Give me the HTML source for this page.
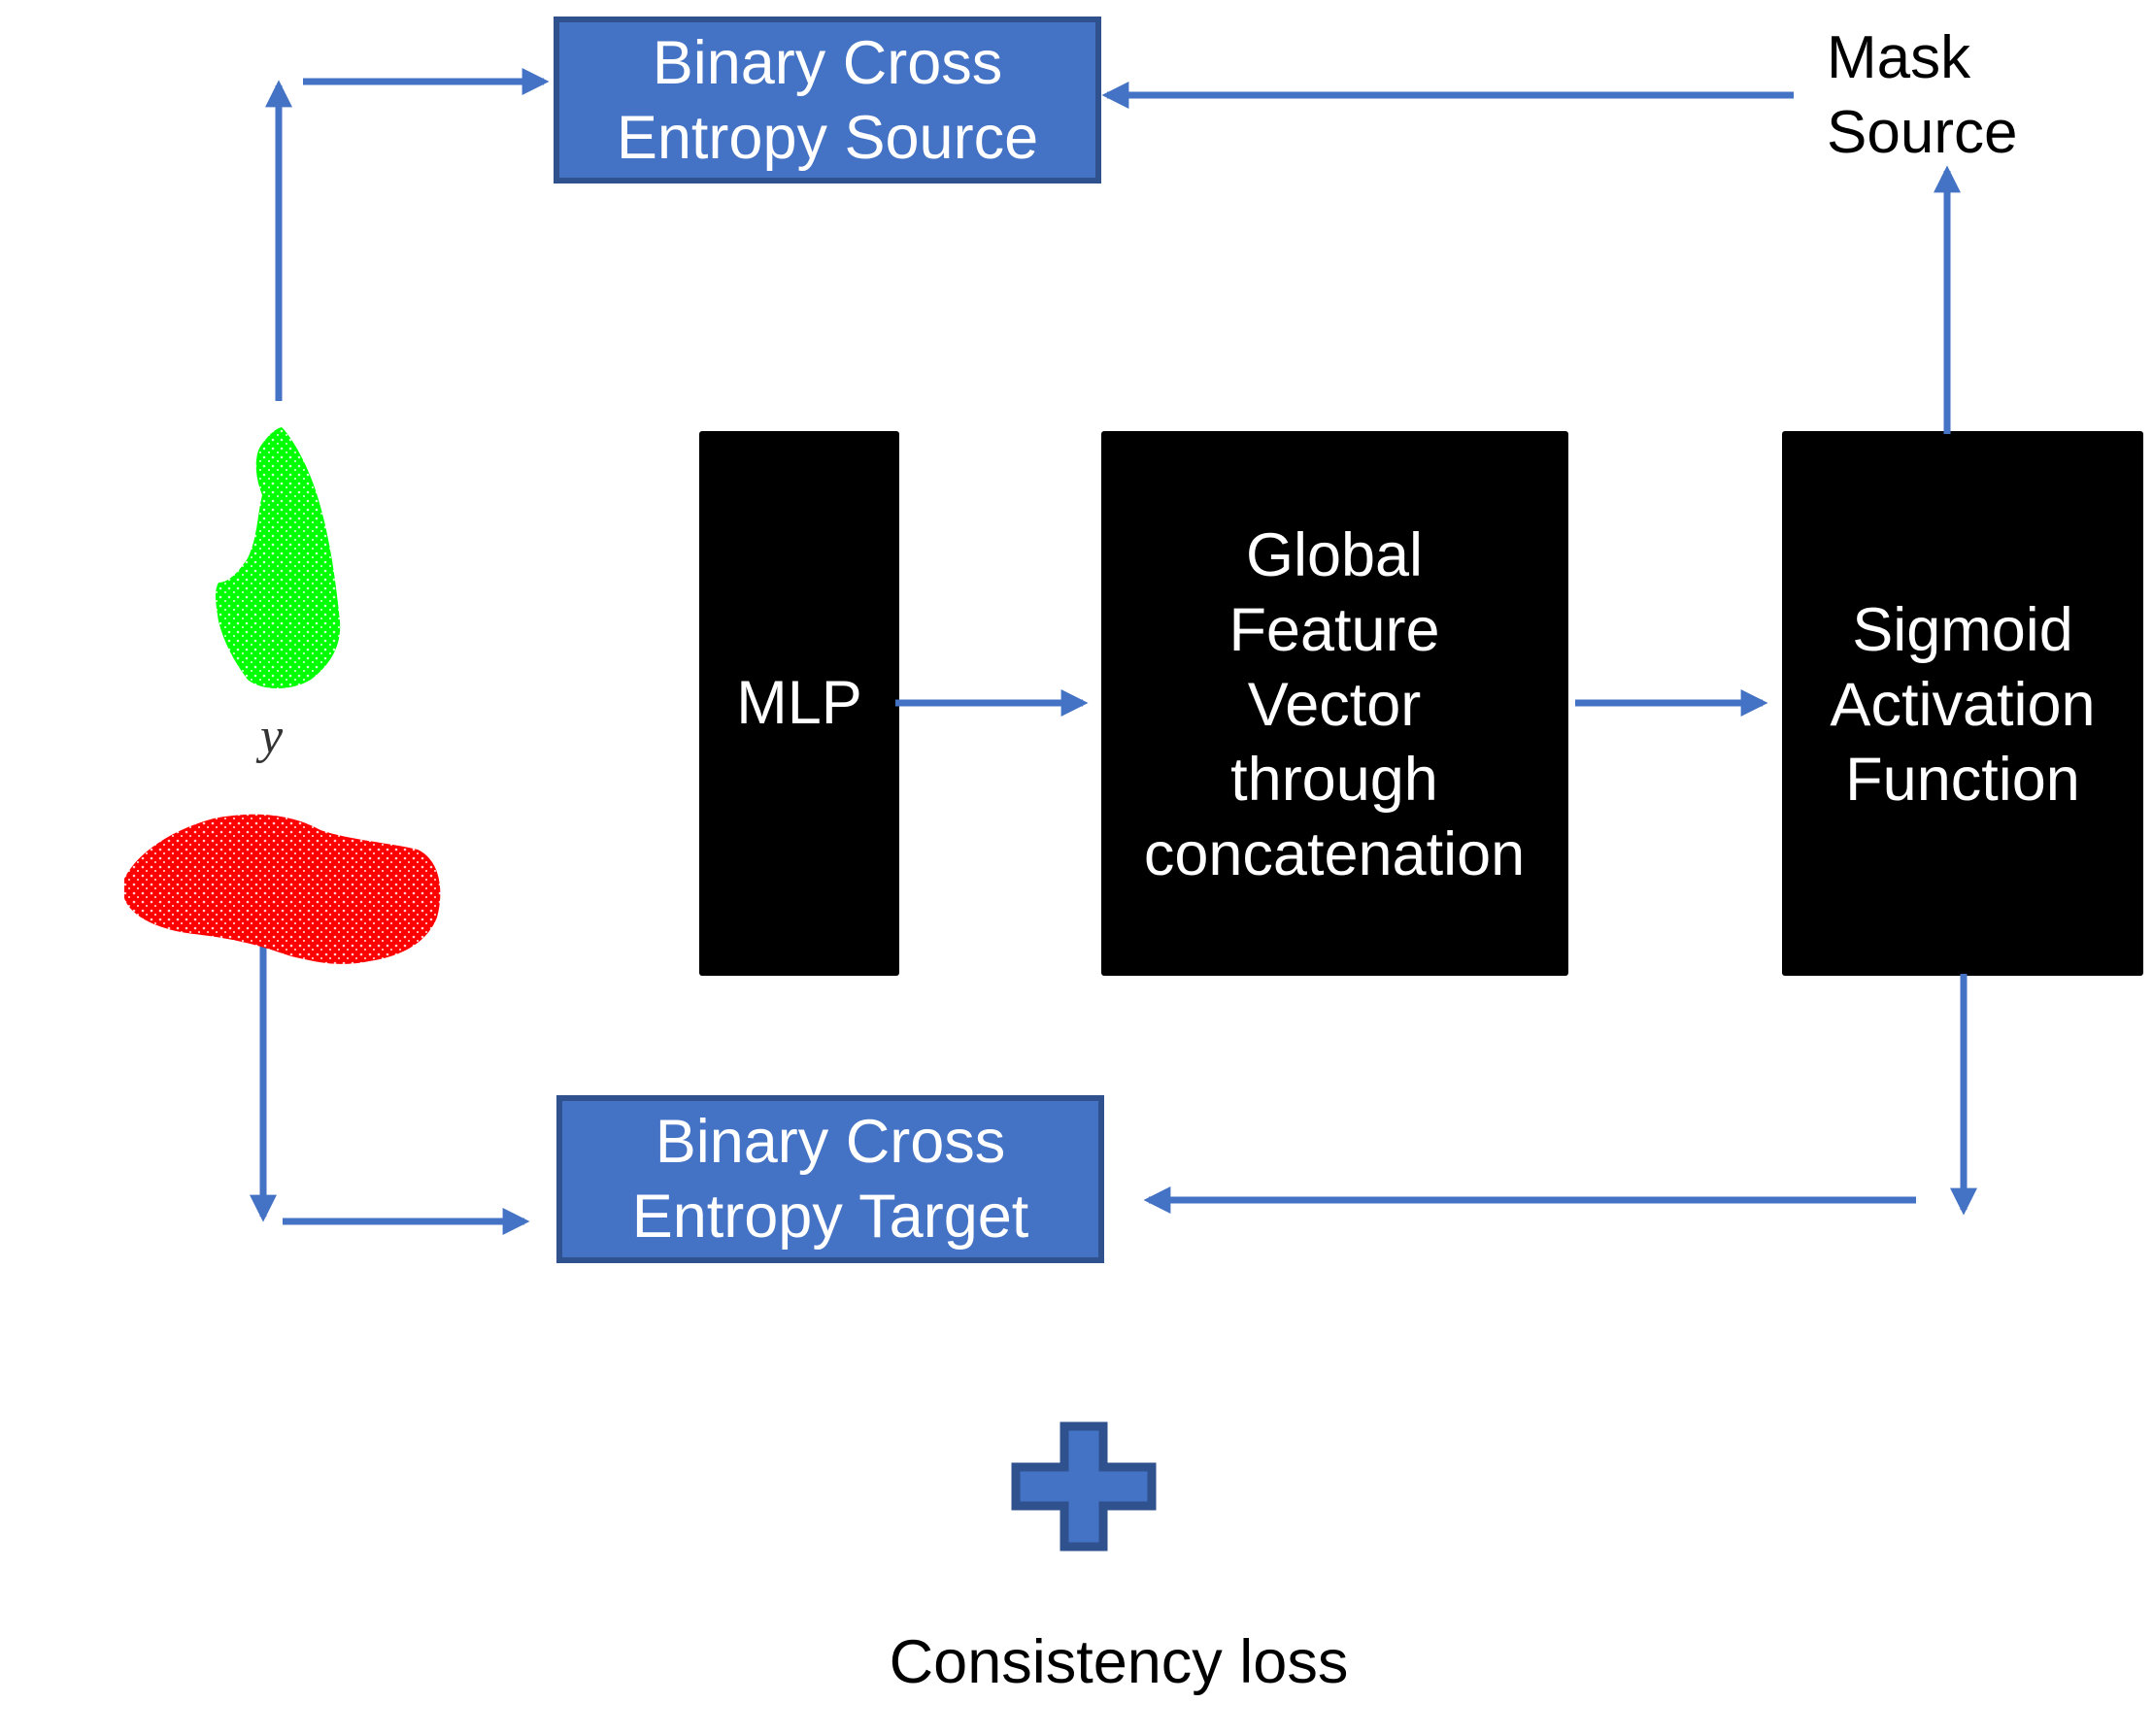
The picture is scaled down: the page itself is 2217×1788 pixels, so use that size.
<!DOCTYPE html>
<html><head><meta charset="utf-8"><style>
html,body{margin:0;padding:0;background:#fff;}
svg{display:block;}
text{font-family:"Liberation Sans",Arial,sans-serif;}
</style></head><body>
<svg width="2217" height="1788" viewBox="0 0 2217 1788" xmlns="http://www.w3.org/2000/svg">
<defs>
<marker id="ah" markerWidth="4" markerHeight="4" refX="3.2" refY="2" orient="auto" markerUnits="strokeWidth">
<path d="M0,0 L4,2 L0,4 z" fill="#4472C4"/>
</marker>
<pattern id="gp" width="9" height="9" patternUnits="userSpaceOnUse">
<rect width="9" height="9" fill="#00ff00"/><circle cx="2" cy="3" r="1.3" fill="#cfffcf"/><circle cx="7" cy="7" r="1" fill="#e8ffe8"/>
</pattern>
<pattern id="rp" width="9" height="9" patternUnits="userSpaceOnUse">
<rect width="9" height="9" fill="#ff0000"/><circle cx="3" cy="2" r="1.3" fill="#ffd0d0"/><circle cx="7" cy="6" r="1" fill="#ffe8e8"/>
</pattern>
</defs>

<!-- BCE Source -->
<rect x="573" y="20" width="558" height="166" fill="#4472C4" stroke="#2F528F" stroke-width="6"/>
<text x="852" y="86" font-size="63" fill="#fff" text-anchor="middle">Binary Cross</text>
<text x="852" y="163" font-size="63" fill="#fff" text-anchor="middle">Entropy Source</text>

<!-- BCE Target -->
<rect x="576" y="1131" width="558" height="167" fill="#4472C4" stroke="#2F528F" stroke-width="6"/>
<text x="855" y="1197" font-size="63" fill="#fff" text-anchor="middle">Binary Cross</text>
<text x="855" y="1274" font-size="63" fill="#fff" text-anchor="middle">Entropy Target</text>

<!-- Mask Source -->
<text x="1881" y="80" font-size="62" fill="#000">Mask</text>
<text x="1881" y="157" font-size="62" fill="#000">Source</text>

<!-- black boxes -->
<rect x="720" y="444" width="206" height="561" rx="3" fill="#000"/>
<text x="823" y="745" font-size="63" fill="#fff" text-anchor="middle">MLP</text>
<rect x="1134" y="444" width="481" height="561" rx="3" fill="#000"/>
<g font-size="63" fill="#fff" text-anchor="middle">
<text x="1374" y="593">Global</text>
<text x="1374" y="670">Feature</text>
<text x="1374" y="747">Vector</text>
<text x="1374" y="824">through</text>
<text x="1374" y="901">concatenation</text>
</g>
<rect x="1835" y="444" width="372" height="561" rx="3" fill="#000"/>
<g font-size="63" fill="#fff" text-anchor="middle">
<text x="2021" y="670">Sigmoid</text>
<text x="2021" y="747">Activation</text>
<text x="2021" y="824">Function</text>
</g>

<!-- connectors -->
<g stroke="#4472C4" stroke-width="7" fill="none">
<line x1="1847" y1="98" x2="1140" y2="98" marker-end="url(#ah)"/>
<line x1="287" y1="413" x2="287" y2="88" marker-end="url(#ah)"/>
<line x1="312" y1="84" x2="560" y2="84" marker-end="url(#ah)"/>
<line x1="922" y1="724" x2="1115" y2="724" marker-end="url(#ah)"/>
<line x1="1622" y1="724" x2="1815" y2="724" marker-end="url(#ah)"/>
<line x1="2005" y1="447" x2="2005" y2="176" marker-end="url(#ah)"/>
<line x1="2022" y1="1003" x2="2022" y2="1246" marker-end="url(#ah)"/>
<line x1="1973" y1="1236" x2="1183" y2="1236" marker-end="url(#ah)"/>
<line x1="271" y1="973" x2="271" y2="1253" marker-end="url(#ah)"/>
<line x1="291" y1="1258" x2="540" y2="1258" marker-end="url(#ah)"/>
</g>

<!-- point clouds -->
<path d="M290,440 C300,450 315,475 325,505 C338,545 345,590 350,640 C352,665 340,685 320,700 C300,712 270,712 255,700 C240,680 230,660 225,640 C222,620 220,610 225,600 C235,600 245,590 255,575 C265,555 265,530 270,510 C262,490 262,470 268,460 C275,450 282,442 290,440 Z" fill="url(#gp)"/>
<text x="268" y="775" font-size="52" font-style="italic" fill="#333" style="font-family:'Liberation Serif',serif">y</text>
<path d="M128,905 C140,880 175,855 220,843 C260,835 300,838 330,855 C360,865 400,868 430,875 C452,885 458,915 450,945 C440,970 415,985 380,990 C350,996 330,992 300,985 C270,975 250,968 200,962 C165,958 135,945 128,925 Z" fill="url(#rp)"/>

<!-- plus -->
<path d="M1096,1469 H1136 V1511 H1186 V1551 H1136 V1593 H1096 V1551 H1046 V1511 H1096 Z" fill="#4472C4" stroke="#2F528F" stroke-width="9"/>
<text x="1152" y="1733" font-size="63" fill="#000" text-anchor="middle">Consistency loss</text>
</svg>
</body></html>
